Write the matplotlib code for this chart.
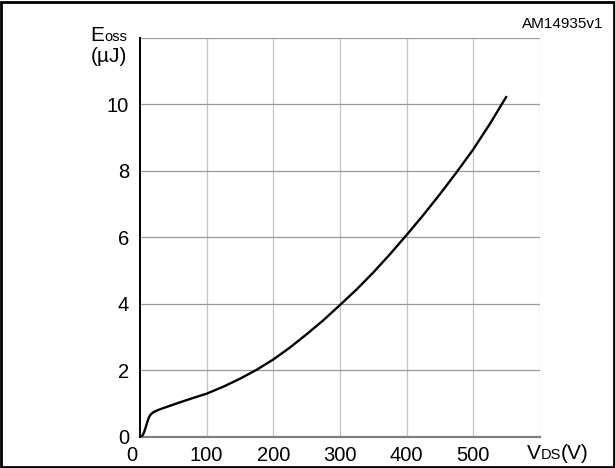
import matplotlib
matplotlib.use("Agg")
import matplotlib.pyplot as plt
from matplotlib.patches import Rectangle
from matplotlib.transforms import ScaledTranslation

plt.rcParams['font.family'] = ['Liberation Sans', 'DejaVu Sans']

# Data
vds = [2, 4, 6, 8, 10, 12, 14, 16, 18, 20, 25, 30, 40, 50, 60, 75, 100, 125, 150,
       175, 200, 225, 250, 275, 300, 325, 350, 375, 400, 425, 450, 475, 500, 525, 550]
eoss = [0, 0.04, 0.12, 0.24, 0.37, 0.5, 0.6, 0.66, 0.7, 0.73, 0.78, 0.82, 0.89, 0.96,
        1.03, 1.13, 1.29, 1.5, 1.74, 2.01, 2.32, 2.68, 3.08, 3.5, 3.96, 4.43, 4.94,
        5.49, 6.07, 6.67, 7.3, 7.96, 8.65, 9.42, 10.25]
x_ticks = [0, 100, 200, 300, 400, 500]
y_ticks = [0, 2, 4, 6, 8, 10]
x_lim = (0, 600)
y_lim = (0, 12)

W, H = 615, 468
fig = plt.figure(figsize=(W / 100, H / 100), dpi=100)
ax = fig.add_axes([140 / W, 1 - 436.5 / H, 400 / W, (436.5 - 38) / H])

# grid lines
for v in [100, 200, 300, 400, 500, 600]:
    ax.axvline(v, color='#c4c4c4', lw=0.9, zorder=1)
for e in [2, 4, 6, 8, 10, 12]:
    ax.axhline(e, color='#9a9a9a', lw=0.9, zorder=1)

ax.plot(vds, eoss, color='black', lw=1.7, zorder=3, solid_capstyle='butt')

ax.set_xlim(*x_lim)
ax.set_ylim(*y_lim)
ax.set_xticks(x_ticks)
ax.set_yticks(y_ticks)
ax.tick_params(length=0, labelsize=14.5)
ax.tick_params(axis='x', pad=6.5)
ax.tick_params(axis='y', pad=8)
for s in ['top', 'right']:
    ax.spines[s].set_visible(False)
ax.spines['left'].set_color('black')
ax.spines['left'].set_linewidth(1.4)
ax.spines['bottom'].set_color('#808080')
ax.spines['bottom'].set_linewidth(1.6)
ax.spines['left'].set_zorder(4)

# shift the x "0" label a little left as in the reference
lbl0 = ax.get_xticklabels()[0]
lbl0.set_transform(lbl0.get_transform() + ScaledTranslation(-8 / 100, 0, fig.dpi_scale_trans))

def fx(px):
    return px / W

def fy(py):
    return 1 - py / H

# Y axis label "Eoss (µJ)"
fig.canvas.draw()
r = fig.canvas.get_renderer()
tE = fig.text(fx(90), fy(41), 'E', fontsize=15, va='baseline', ha='left')
bb = tE.get_window_extent(r)
fig.text(bb.x1 / W, fy(41), 'oss', fontsize=10.5, va='baseline', ha='left')
fig.text(fx(127.5), fy(62), '(µJ)', fontsize=15, va='baseline', ha='right')

# X axis label "VDS(V)"
tV = fig.text(fx(527), fy(459), 'V', fontsize=15, va='baseline', ha='left')
bb = tV.get_window_extent(r)
tD = fig.text(bb.x1 / W, fy(459), 'DS', fontsize=10.5, va='baseline', ha='left')
bb = tD.get_window_extent(r)
fig.text(bb.x1 / W, fy(459), '(V)', fontsize=15, va='baseline', ha='left')

fig.text(fx(603), fy(28), 'AM14935v1', fontsize=11, va='baseline', ha='right')

# outer frame
fig.patches.append(Rectangle((1 / W, 1 / H), 1 - 2.5 / W, 1 - 2.5 / H,
                             transform=fig.transFigure, fill=False,
                             edgecolor='black', lw=2, zorder=10))

fig.savefig('out.png', dpi=100)
